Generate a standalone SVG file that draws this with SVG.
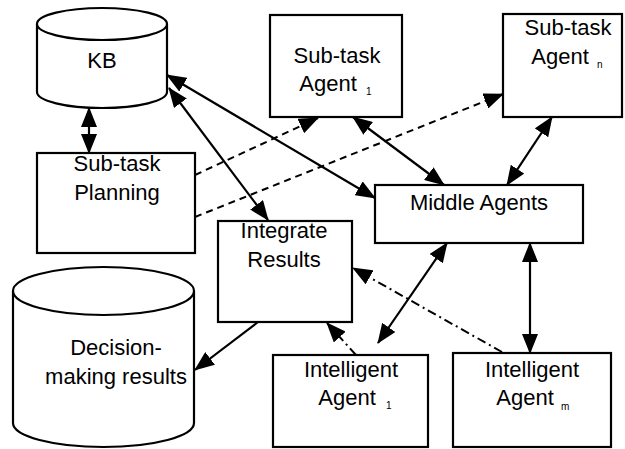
<svg xmlns="http://www.w3.org/2000/svg" width="625" height="449" viewBox="0 0 625 449">
<defs>
<style>
.box{fill:#fff;stroke:#000;stroke-width:2.2}
.t{font-family:"Liberation Sans",Arial,sans-serif;font-size:22px;fill:#000;text-anchor:middle}
.sub{font-family:"Liberation Sans",Arial,sans-serif;font-size:10px;fill:#000}
.c{fill:none;stroke:#000;stroke-width:2.2}
.d{fill:none;stroke:#000;stroke-width:2;stroke-dasharray:7 5}
.dd{fill:none;stroke:#000;stroke-width:2;stroke-dasharray:9 4 2 4}
</style>
<marker id="ah" viewBox="0 0 20 16" refX="19" refY="8" markerWidth="20" markerHeight="16" markerUnits="userSpaceOnUse" orient="auto-start-reverse">
<path d="M0,0 L20,8 L0,16 z" fill="#000"/>
</marker>
</defs>
<rect width="625" height="449" fill="#fff"/>
<g id="connectors">
<line class="c" x1="89" y1="108" x2="89" y2="153" marker-start="url(#ah)" marker-end="url(#ah)"/>
<line class="c" x1="167" y1="75" x2="375" y2="198" marker-start="url(#ah)" marker-end="url(#ah)"/>
<line class="c" x1="169" y1="88" x2="268" y2="220" marker-start="url(#ah)" marker-end="url(#ah)"/>
<line class="c" x1="353" y1="117" x2="444" y2="185" marker-start="url(#ah)" marker-end="url(#ah)"/>
<line class="c" x1="552" y1="117" x2="507" y2="185" marker-start="url(#ah)" marker-end="url(#ah)"/>
<line class="c" x1="447" y1="243" x2="378" y2="343" marker-start="url(#ah)" marker-end="url(#ah)"/>
<line class="c" x1="530" y1="243" x2="530" y2="353" marker-start="url(#ah)" marker-end="url(#ah)"/>
<line class="c" x1="258" y1="322" x2="195" y2="370" marker-end="url(#ah)"/>
<line class="d" x1="195" y1="175" x2="318" y2="118" marker-end="url(#ah)"/>
<line class="d" x1="195" y1="217" x2="503" y2="94" marker-end="url(#ah)"/>
<line class="dd" x1="502" y1="352" x2="353" y2="268" marker-end="url(#ah)"/>
<line class="dd" x1="356" y1="355" x2="327" y2="323" marker-end="url(#ah)"/>
</g>
<g id="kb">
<path class="box" d="M37,24 V92 A65,16 0 0,0 167,92 V24"/>
<ellipse class="box" cx="102" cy="24" rx="65" ry="16"/>
<text class="t" x="102" y="68">KB</text>
</g>
<g id="planning">
<rect class="box" x="37" y="153" width="158" height="100"/>
<text class="t" x="117" y="171">Sub-task</text>
<text class="t" x="117" y="200">Planning</text>
</g>
<g id="subagent1">
<rect class="box" x="270" y="15" width="132" height="102"/>
<text class="t" x="337" y="63">Sub-task</text>
<text class="t" x="328" y="91">Agent</text>
<text class="sub" x="366" y="95">1</text>
</g>
<g id="subagentn">
<rect class="box" x="503" y="14" width="119" height="103"/>
<text class="t" x="568" y="35">Sub-task</text>
<text class="t" x="560" y="64">Agent</text>
<text class="sub" x="597" y="68">n</text>
</g>
<g id="middle">
<rect class="box" x="375" y="185" width="208" height="58"/>
<text class="t" x="479" y="210">Middle Agents</text>
</g>
<g id="integrate">
<rect class="box" x="218" y="221" width="134" height="101"/>
<text class="t" x="284" y="238">Integrate</text>
<text class="t" x="284" y="267">Results</text>
</g>
<g id="decision">
<path class="box" d="M13,291 V423 A90.5,24 0 0,0 194,423 V291"/>
<ellipse class="box" cx="103.5" cy="291" rx="90.5" ry="24"/>
<text class="t" x="116" y="355">Decision-</text>
<text class="t" x="116" y="384">making results</text>
</g>
<g id="intelligent1">
<rect class="box" x="273" y="355" width="155" height="92"/>
<text class="t" x="351" y="377">Intelligent</text>
<text class="t" x="347" y="405">Agent</text>
<text class="sub" x="386" y="409">1</text>
</g>
<g id="intelligentm">
<rect class="box" x="453" y="353" width="158" height="94"/>
<text class="t" x="532" y="377">Intelligent</text>
<text class="t" x="525" y="405">Agent</text>
<text class="sub" x="561" y="410">m</text>
</g>
</svg>
